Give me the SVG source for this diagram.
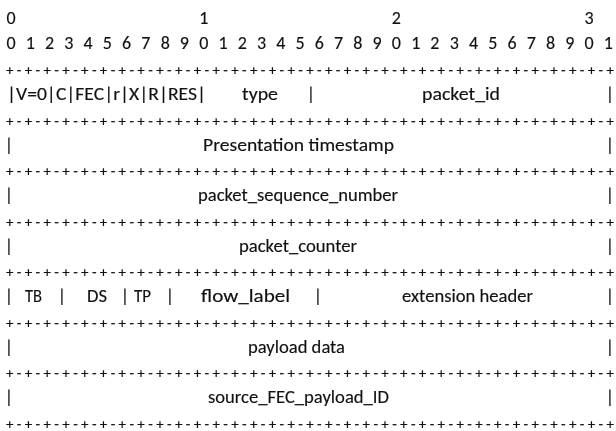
<svg xmlns="http://www.w3.org/2000/svg" width="616" height="431" viewBox="0 0 616 431">
<style>
text{font-family:Carlito,Lato,"Open Sans",sans-serif;font-size:18px;fill:#111;stroke:#111;stroke-width:0.15px}
.m{text-anchor:middle}
.sep{font-size:15px}
</style>
<defs>
<filter id="gray" x="0" y="0" width="616" height="431" filterUnits="userSpaceOnUse"><feOffset dx="0" dy="0"/></filter>
</defs>
<rect width="616" height="431" fill="#fff"/>
<g filter="url(#gray)">
<g id="header">
<text class="m" x="11" y="24">0</text><text class="m" x="203.7" y="24">1</text><text class="m" x="396.4" y="24">2</text><text class="m" x="589.1" y="24">3</text>
<text class="m" x="11.0" y="49">0</text><text class="m" x="30.3" y="49">1</text><text class="m" x="49.5" y="49">2</text><text class="m" x="68.8" y="49">3</text><text class="m" x="88.1" y="49">4</text><text class="m" x="107.4" y="49">5</text><text class="m" x="126.6" y="49">6</text><text class="m" x="145.9" y="49">7</text><text class="m" x="165.2" y="49">8</text><text class="m" x="184.4" y="49">9</text><text class="m" x="203.7" y="49">0</text><text class="m" x="223.0" y="49">1</text><text class="m" x="242.2" y="49">2</text><text class="m" x="261.5" y="49">3</text><text class="m" x="280.8" y="49">4</text><text class="m" x="300.1" y="49">5</text><text class="m" x="319.3" y="49">6</text><text class="m" x="338.6" y="49">7</text><text class="m" x="357.9" y="49">8</text><text class="m" x="377.1" y="49">9</text><text class="m" x="396.4" y="49">0</text><text class="m" x="415.7" y="49">1</text><text class="m" x="434.9" y="49">2</text><text class="m" x="454.2" y="49">3</text><text class="m" x="473.5" y="49">4</text><text class="m" x="492.8" y="49">5</text><text class="m" x="512.0" y="49">6</text><text class="m" x="531.3" y="49">7</text><text class="m" x="550.6" y="49">8</text><text class="m" x="569.8" y="49">9</text><text class="m" x="589.1" y="49">0</text><text class="m" x="608.4" y="49">1</text>
</g>
<g id="separators">
<text class="sep" x="6" y="75" textLength="608" lengthAdjust="spacing">+-+-+-+-+-+-+-+-+-+-+-+-+-+-+-+-+-+-+-+-+-+-+-+-+-+-+-+-+-+-+-+-+</text>
<text class="sep" x="6" y="125.5" textLength="608" lengthAdjust="spacing">+-+-+-+-+-+-+-+-+-+-+-+-+-+-+-+-+-+-+-+-+-+-+-+-+-+-+-+-+-+-+-+-+</text>
<text class="sep" x="6" y="176" textLength="608" lengthAdjust="spacing">+-+-+-+-+-+-+-+-+-+-+-+-+-+-+-+-+-+-+-+-+-+-+-+-+-+-+-+-+-+-+-+-+</text>
<text class="sep" x="6" y="226.5" textLength="608" lengthAdjust="spacing">+-+-+-+-+-+-+-+-+-+-+-+-+-+-+-+-+-+-+-+-+-+-+-+-+-+-+-+-+-+-+-+-+</text>
<text class="sep" x="6" y="277" textLength="608" lengthAdjust="spacing">+-+-+-+-+-+-+-+-+-+-+-+-+-+-+-+-+-+-+-+-+-+-+-+-+-+-+-+-+-+-+-+-+</text>
<text class="sep" x="6" y="327.5" textLength="608" lengthAdjust="spacing">+-+-+-+-+-+-+-+-+-+-+-+-+-+-+-+-+-+-+-+-+-+-+-+-+-+-+-+-+-+-+-+-+</text>
<text class="sep" x="6" y="378" textLength="608" lengthAdjust="spacing">+-+-+-+-+-+-+-+-+-+-+-+-+-+-+-+-+-+-+-+-+-+-+-+-+-+-+-+-+-+-+-+-+</text>
<text class="sep" x="6" y="428.5" textLength="608" lengthAdjust="spacing">+-+-+-+-+-+-+-+-+-+-+-+-+-+-+-+-+-+-+-+-+-+-+-+-+-+-+-+-+-+-+-+-+</text>
</g>
<g id="row1">
<text x="7" y="100" textLength="199" lengthAdjust="spacingAndGlyphs">|V=0|C|FEC|r|X|R|RES|</text>
<text x="242" y="100" textLength="36" lengthAdjust="spacingAndGlyphs">type</text>
<text class="m" x="311" y="100">|</text>
<text x="422" y="100" textLength="78" lengthAdjust="spacingAndGlyphs">packet_id</text>
<text class="m" x="610" y="100">|</text>
</g>
<g id="row2">
<text class="m" x="9" y="150.5">|</text>
<text x="203" y="150.5" textLength="191" lengthAdjust="spacingAndGlyphs">Presentation  timestamp</text>
<text class="m" x="610" y="150.5">|</text>
</g>
<g id="row3">
<text class="m" x="9" y="201">|</text>
<text x="198" y="201" textLength="200" lengthAdjust="spacingAndGlyphs">packet_sequence_number</text>
<text class="m" x="610" y="201">|</text>
</g>
<g id="row4">
<text class="m" x="9" y="251.5">|</text>
<text x="239" y="251.5" textLength="118" lengthAdjust="spacingAndGlyphs">packet_counter</text>
<text class="m" x="610" y="251.5">|</text>
</g>
<g id="row5">
<text class="m" x="9" y="302">|</text>
<text x="25" y="302" textLength="17" lengthAdjust="spacingAndGlyphs">TB</text>
<text class="m" x="62" y="302">|</text>
<text x="87" y="302" textLength="20" lengthAdjust="spacingAndGlyphs">DS</text>
<text class="m" x="125" y="302">|</text>
<text x="134" y="302" textLength="17" lengthAdjust="spacingAndGlyphs">TP</text>
<text class="m" x="170" y="302">|</text>
<text x="201" y="302" textLength="89" lengthAdjust="spacingAndGlyphs">flow_label</text>
<text class="m" x="318" y="302">|</text>
<text x="402" y="302" textLength="131" lengthAdjust="spacingAndGlyphs">extension header</text>
<text class="m" x="610" y="302">|</text>
</g>
<g id="row6">
<text class="m" x="9" y="352.5">|</text>
<text x="248" y="352.5" textLength="97" lengthAdjust="spacingAndGlyphs">payload data</text>
<text class="m" x="610" y="352.5">|</text>
</g>
<g id="row7">
<text class="m" x="9" y="403">|</text>
<text x="208" y="403" textLength="181" lengthAdjust="spacingAndGlyphs">source_FEC_payload_ID</text>
<text class="m" x="610" y="403">|</text>
</g>
</g>
</svg>
